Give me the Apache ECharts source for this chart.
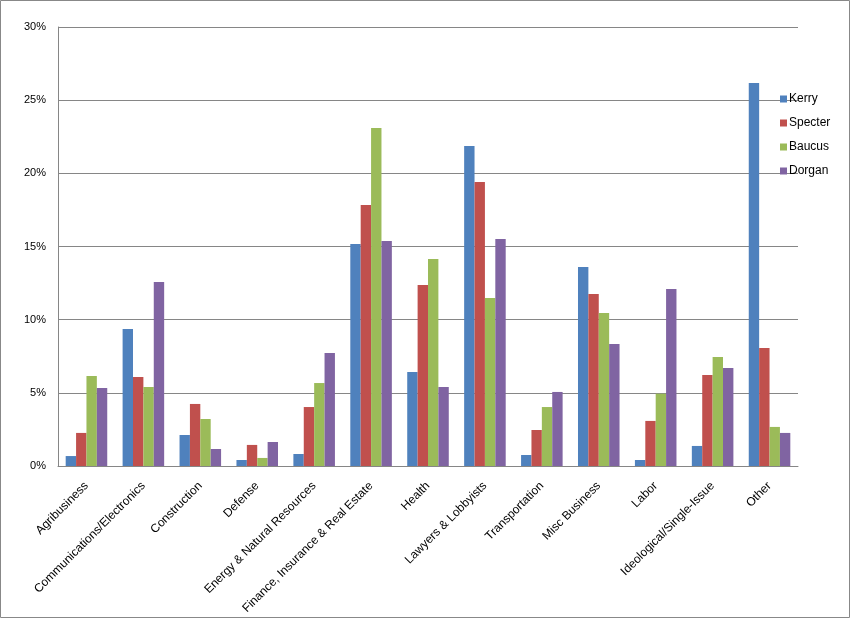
<!DOCTYPE html>
<html>
<head>
<meta charset="UTF-8">
<title>Contributions by sector</title>
<script src="https://cdn.jsdelivr.net/npm/echarts@6/dist/echarts.min.js"></script>
<style>body{margin:0;background:#fff}</style>
</head>
<body>
<div id="main" style="width:850px;height:618px"></div>
<script>
const sectors = ['Agribusiness','Communications/Electronics','Construction','Defense','Energy & Natural Resources',
  'Finance, Insurance & Real Estate','Health','Lawyers & Lobbyists','Transportation','Misc Business','Labor',
  'Ideological/Single-Issue','Other'];
const kerry   = [0.68, 9.36, 2.12, 0.41, 0.82, 15.17, 6.43, 21.87, 0.75, 13.6, 0.41, 1.37, 26.18];
const specter = [2.26, 6.08, 4.24, 1.44, 4.03, 17.84, 12.37, 19.41, 2.46, 11.76, 3.08, 6.22, 8.07];
const baucus  = [6.15, 5.40, 3.21, 0.55, 5.67, 23.1, 14.15, 11.48, 4.03, 10.46, 4.94, 7.45, 2.67];
const dorgan  = [5.33, 12.58, 1.16, 1.64, 7.72, 15.38, 5.40, 15.52, 5.06, 8.34, 12.1, 6.70, 2.26];

const font = 'Liberation Sans';
const mk = (name, data, color) => ({name, type:'bar', data, itemStyle:{color}, barGap:'0%', barCategoryGap:'27%'});

const chart = echarts.init(document.getElementById('main'));
chart.setOption({
  animation:false,
  textStyle:{fontFamily:font},
  graphic:[{type:'rect', shape:{x:0.5,y:0.5,width:849,height:617}, style:{fill:'none', stroke:'#888', lineWidth:1}, silent:true}],
  grid:{left:58, right:52, top:27, bottom:152},
  legend:{orient:'vertical', left:775, top:88, itemWidth:7, itemHeight:7, itemGap:12,
    icon:'rect', textStyle:{fontSize:12, color:'#000', padding:[0,0,0,-3]},
    data:['Kerry','Specter','Baucus','Dorgan']},
  xAxis:{type:'category', data:sectors,
    axisLine:{lineStyle:{color:'#868686'}},
    axisTick:{length:5, lineStyle:{color:'#868686'}},
    axisLabel:{rotate:45, interval:0, fontSize:12, color:'#000', margin:18}},
  yAxis:{type:'value', min:0, max:30, interval:5,
    axisLine:{show:true, lineStyle:{color:'#868686'}},
    axisTick:{show:false},
    splitLine:{lineStyle:{color:'#868686'}},
    axisLabel:{formatter:'{value}%', fontSize:11, color:'#000', margin:12}},
  series:[
    mk('Kerry', kerry, '#4F81BD'),
    mk('Specter', specter, '#C0504D'),
    mk('Baucus', baucus, '#9BBB59'),
    mk('Dorgan', dorgan, '#8064A2')
  ]
});
</script>
</body>
</html>
